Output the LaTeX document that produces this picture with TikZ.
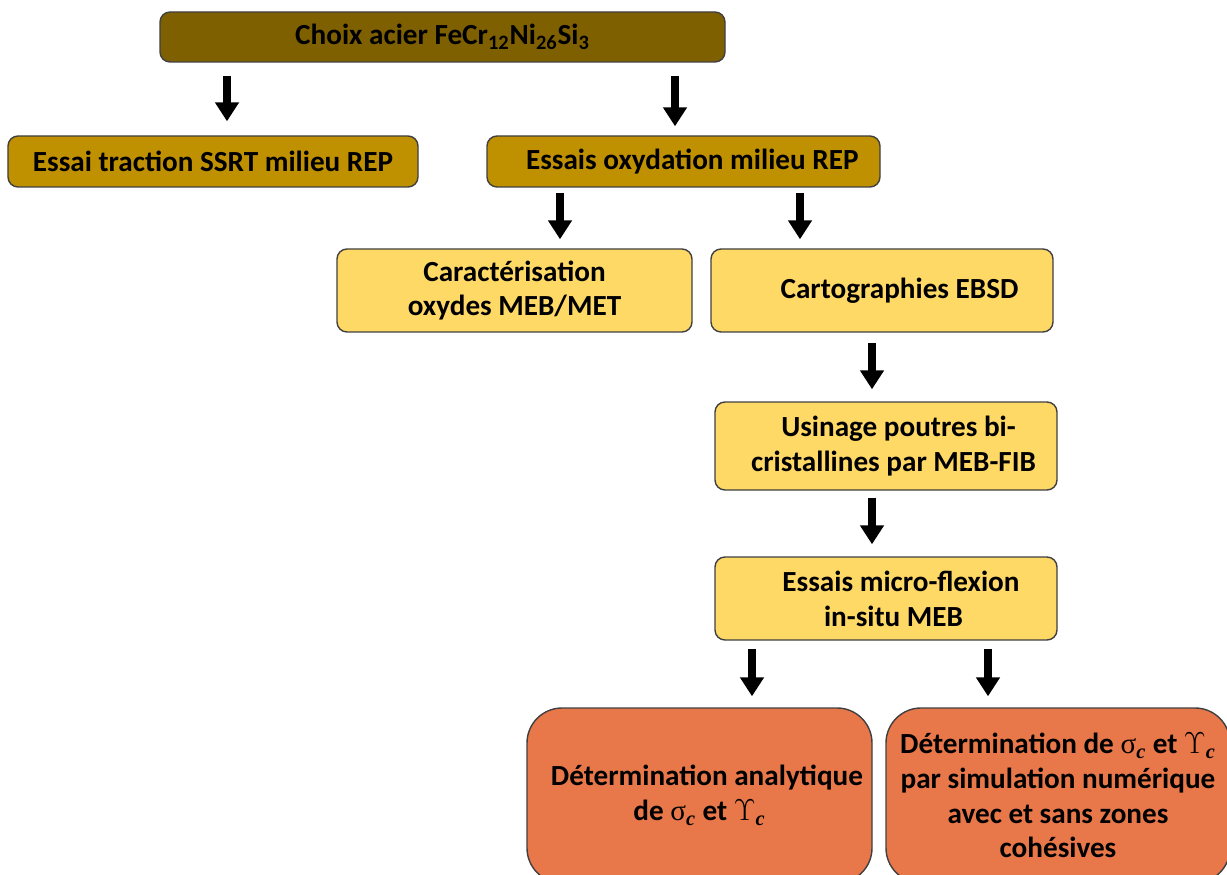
\documentclass[tikz,border=0pt]{standalone}
\usepackage{fontspec}
\setmainfont{Carlito}
\newfontfamily\grk{Liberation Serif}
\usepackage{tikz}
\usetikzlibrary{arrows.meta}

\definecolor{olivedk}{HTML}{7F6000}
\definecolor{goldbox}{HTML}{BF9000}
\definecolor{yellbox}{HTML}{FFD966}
\definecolor{orgbox}{HTML}{E8774A}

\newcommand{\sigc}{{\grk\mdseries σ}\textsubscript{\textbf{\textit{\grk c}}}}
\newcommand{\upsc}{{\mdseries$\Upsilon$}\textsubscript{\textbf{\textit{\grk c}}}}

\begin{document}
\begin{tikzpicture}[font=\fontsize{16.6}{19.8}\selectfont\bfseries,
  box/.style={draw=black!75,line width=0.8pt,rounded corners=0.2cm,align=center,inner sep=0pt},
  lvlA/.style={box,fill=olivedk},
  lvlB/.style={box,fill=goldbox},
  lvlC/.style={box,fill=yellbox},
  lvlD/.style={box,fill=orgbox,rounded corners=0.7cm},
  arr/.style={line width=0.16cm,-{Triangle[width=0.46cm,length=0.38cm]}}]
\useasboundingbox (0,0) rectangle (24.54,-17.5);
% boxes
\node[lvlA,minimum width=11.3cm,minimum height=1.0cm] (choix) at (8.85,-0.74) {Choix acier FeCr\textsubscript{12}Ni\textsubscript{26}Si\textsubscript{3}};
\node[lvlB,minimum width=8.2cm,minimum height=1.02cm] (ssrt) at (4.26,-3.23) {Essai traction SSRT milieu REP};
\node[lvlB,minimum width=7.86cm,minimum height=1.02cm] (oxy) at (13.67,-3.23) {\hspace*{0.35cm}Essais oxydation milieu REP};
\node[lvlC,minimum width=7.1cm,minimum height=1.66cm] (carac) at (10.29,-5.81) {Caractérisation\\oxydes MEB/MET};
\node[lvlC,minimum width=6.84cm,minimum height=1.66cm] (ebsd) at (17.64,-5.81) {\hspace*{0.7cm}Cartographies EBSD};
\node[lvlC,minimum width=6.84cm,minimum height=1.76cm] (fib) at (17.72,-8.92) {\hspace*{0.5cm}Usinage poutres bi-\\\hspace*{0.3cm}cristallines par MEB-FIB};
\node[lvlC,minimum width=6.84cm,minimum height=1.66cm] (flex) at (17.72,-11.97) {\hspace*{0.6cm}Essais micro-flexion\\\hspace*{0.3cm}in-situ MEB};
\node[lvlD,minimum width=6.9cm,minimum height=3.5cm] (anal) at (13.99,-15.91) {\hspace*{0.3cm}Détermination analytique\\de \sigc{} et \upsc};
\node[lvlD,minimum width=6.88cm,minimum height=3.5cm] (num) at (21.16,-15.91) {Détermination de \sigc{} et \upsc\\par simulation numérique\\avec et sans zones\\cohésives};
% arrows
\draw[arr] ([xshift=-4.31cm]choix.south) coordinate (p1) ++(0,-0.26) -- ([yshift=0.28cm]p1 |- ssrt.north);
\draw[arr] ([xshift=4.65cm]choix.south) coordinate (p2) ++(0,-0.26) -- ([yshift=0.18cm]p2 |- oxy.north);
\draw[arr] ([xshift=-2.47cm]oxy.south) coordinate (p3) ++(0,-0.1) -- ([yshift=0.18cm]p3 |- carac.north);
\draw[arr] ([xshift=2.33cm]oxy.south) coordinate (p4) ++(0,-0.1) -- ([yshift=0.18cm]p4 |- ebsd.north);
\draw[arr] ([xshift=-0.2cm]ebsd.south) coordinate (p5) ++(0,-0.2) -- ([yshift=0.24cm]p5 |- fib.north);
\draw[arr] ([xshift=-0.28cm]fib.south) coordinate (p6) ++(0,-0.14) -- ([yshift=0.24cm]p6 |- flex.north);
\draw[arr] ([xshift=-2.68cm]flex.south) coordinate (p7) ++(0,-0.16) -- ([yshift=0.22cm]p7 |- anal.north);
\draw[arr] ([xshift=2.04cm]flex.south) coordinate (p8) ++(0,-0.16) -- ([yshift=0.22cm]p8 |- num.north);
\end{tikzpicture}
\end{document}
